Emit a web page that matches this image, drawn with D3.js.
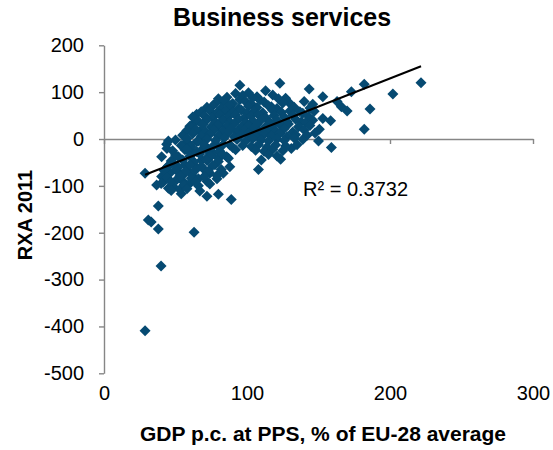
<!DOCTYPE html>
<html><head><meta charset="utf-8">
<script src="https://cdn.jsdelivr.net/npm/d3@7"></script>
<style>
html,body{margin:0;padding:0;background:#fff;}
svg{display:block;font-family:"Liberation Sans",Arial,sans-serif;}
</style></head>
<body><svg id="c" width="553" height="450"></svg>
<script>
// ---- data ----
const chartTitle = "Business services";
const xTitle = "GDP p.c. at PPS, % of EU-28 average";
const yTitle = "RXA 2011";
const xTicks = [0, 100, 200, 300];
const yTicks = [200, 100, 0, -100, -200, -300, -400, -500];
const rSquaredLabel = "R² = 0.3732";
const trendSlope = 1.199;
const trendIntercept = -110.6;

const gdp = [
  // outliers
  28.7, 28.7, 39.9, 38, 31, 33, 38, 63, 72, 80, 89, 54,
  // upper / right points
  95, 123, 143.5, 182, 221.7, 202, 186, 182, 173, 163,
  166, 170, 153, 146, 153, 158.5, 150.6, 147.6, 150, 159,
  123.5, 110, 108, 113, 118, 138, 131, 137, 130, 127,
  117, 109, 107, 64.8, 62.4, 67, 83.4, 88,
  // lower-left cluster
  36.8, 40.3, 43.8, 45, 44, 45, 48.5, 50.8, 55.5, 60,
  62.4, 74, 83.4, 77.6, 87, 40.3, 41.5, 46, 52, 56.6,
  64.8, 68.3, 52, 56.6, 62.4, 68.3, 71.8, 76.4, 78.8, 88,
  85.8, 57.8, 60, 64.8, 71.8, 80, 53, 58, 66, 70,
  44, 48, 55, 59, 66, 72, 79,
  // core
  92, 101, 97,
  80, 86, 95, 104, 122,
  78, 84, 90, 99, 103, 112, 125, 140,
  72, 76, 82, 88, 94, 101, 107, 115, 121, 133, 144,
  68, 74, 79, 85, 90, 96, 100, 105, 111, 118, 124, 130, 139, 147,
  62, 70, 76, 81, 87, 92, 98, 103, 108, 113, 119, 126, 132, 143,
  66, 72, 78, 83, 88, 94, 99, 104, 110, 116, 121, 128, 134, 141, 146,
  60, 69, 75, 80, 86, 91, 96, 101, 107, 113, 118, 124, 129, 136, 144,
  58, 64, 71, 77, 83, 89, 93, 98, 104, 109, 115, 120, 126, 132, 140,
  55, 62, 68, 74, 80, 86, 91, 96, 101, 106, 112, 117, 123, 128, 134, 142,
  50, 58, 66, 72, 78, 84, 93, 99, 104, 110, 115, 121, 126, 133, 139,
  54, 61, 70, 76, 83, 90, 97, 103, 108, 114, 120, 127, 135,
  48, 58, 65, 73, 81, 92, 106, 112, 118, 125,
  50, 60, 67, 75, 83, 115, 121,
  47, 55, 63, 72, 80,
  45, 52, 60, 68, 76, 88,
  42, 50, 57, 64, 73, 82,
  44, 53, 61, 70, 79,
  40, 47, 56, 64, 74,
  47, 58, 67
];
const rxa = [
  // outliers
  -73, -409, -271, -143, -173, -177, -192, -199, -122, -118, -129, -117,
  // upper / right points
  115, 119, 107, 117, 120, 96, 64, 21, 101, 80,
  69, 60, 90, 74, 44, 39, 21, 13, -4, -18,
  -43, -45, -65, 103, 94, 37, -20, 58, 76, 87,
  69, 83, 90, 53, 33, 16, 80, 69,
  // lower-left cluster
  -98, -38, -11, -4, -20, -105, -102, -87, -91, -95,
  -80, -73, -73, -55, -41, -80, -91, -73, -70, -55,
  -62, -45, -38, -23, -30, -23, -41, -30, -13, -13,
  -38, -6, -13, -6, -23, -41, -108, -100, -85, -65,
  -60, -50, -78, -68, -100, -90, -85,
  // core
  97, 99, 93,
  86, 89, 84, 88, 86,
  77, 81, 76, 80, 75, 79, 77, 80,
  68, 71, 66, 72, 65, 70, 67, 71, 65, 68, 66,
  58, 61, 56, 60, 57, 62, 55, 59, 56, 61, 57, 60, 55, 59,
  47, 50, 46, 52, 48, 51, 45, 49, 52, 46, 50, 47, 51, 48,
  38, 41, 36, 40, 37, 42, 35, 39, 41, 36, 40, 37, 42, 35, 40,
  27, 31, 26, 30, 28, 32, 25, 29, 31, 26, 30, 28, 32, 26, 29,
  18, 21, 16, 20, 17, 22, 15, 19, 21, 16, 20, 17, 22, 15, 19,
  8, 11, 6, 10, 7, 12, 5, 9, 11, 6, 10, 7, 12, 5, 9, 8,
  -2, 1, -4, 0, -3, 2, -1, -5, 1, -2, -4, 0, -3, 2, -1,
  -14, -17, -12, -16, -13, -18, -14, -16, -12, -17, -13, -15, -12,
  -25, -22, -27, -24, -26, -23, -24, -26, -22, -25,
  -34, -37, -32, -36, -33, -33, -36,
  -47, -45, -49, -46, -48,
  -57, -60, -55, -58, -56, -59,
  -67, -65, -69, -66, -68, -65,
  -82, -79, -84, -80, -78,
  -95, -92, -98, -90, -96,
  -110, -106, -111
];

// ---- layout ----
const plot = {left: 104, right: 533, top: 45.3, bottom: 373.3};
const markerColor = "#064a72";
const axisColor = "#868686";
const fontFam = '"Liberation Sans", Arial, sans-serif';

const svg = d3.select("#c");
const x = d3.scaleLinear().domain([0, 300]).range([plot.left, plot.right]);
const y = d3.scaleLinear().domain([-500, 200]).range([plot.bottom, plot.top]);
const fmt = d => String(d);

// y axis
const yAxis = svg.append("g")
  .attr("transform", `translate(${plot.left},0)`)
  .call(d3.axisLeft(y).tickValues(yTicks).tickSize(5).tickSizeOuter(0).tickPadding(15).tickFormat(fmt));
// x axis line at y = 0 with ticks
const xAxis = svg.append("g")
  .attr("transform", `translate(0,${y(0)})`)
  .call(d3.axisBottom(x).tickValues(xTicks).tickSize(5).tickSizeOuter(0).tickFormat(""));
// x labels at bottom
const xLab = svg.append("g")
  .attr("transform", `translate(0,${plot.bottom})`)
  .call(d3.axisBottom(x).tickValues(xTicks).tickSize(0).tickPadding(12.5).tickFormat(fmt));
xLab.select(".domain").remove();

[yAxis, xAxis].forEach(g => {
  g.selectAll("path,line").attr("stroke", axisColor).attr("stroke-width", 1.4);
});
[yAxis, xLab].forEach(g => {
  g.selectAll("text").attr("fill", "#000").style("font-size", "20px").style("font-family", fontFam);
});

// points
const pts = gdp.map((g, i) => ({g, r: rxa[i]}));
const s = 5.5;
svg.append("g").selectAll("path").data(pts).join("path")
  .attr("d", `M0,${-s}L${s},0L0,${s}L${-s},0Z`)
  .attr("transform", d => `translate(${x(d.g)},${y(d.r)})`)
  .attr("fill", markerColor);

// trend line
const [xmin, xmax] = d3.extent(gdp);
svg.append("line")
  .attr("x1", x(xmin)).attr("y1", y(trendSlope * xmin + trendIntercept))
  .attr("x2", x(xmax)).attr("y2", y(trendSlope * xmax + trendIntercept))
  .attr("stroke", "#000").attr("stroke-width", 2);

// R squared label
svg.append("text").attr("x", x(139.2)).attr("y", y(-121.5))
  .style("font-size", "20px").text(rSquaredLabel);

// titles
svg.append("text").attr("x", 282).attr("y", 26).attr("text-anchor", "middle")
  .style("font-size", "25px").style("font-weight", "bold").text(chartTitle);
svg.append("text").attr("x", 323).attr("y", 441).attr("text-anchor", "middle")
  .style("font-size", "21px").style("font-weight", "bold").text(xTitle);
svg.append("text").attr("transform", "translate(32,215) rotate(-90)").attr("text-anchor", "middle")
  .style("font-size", "20px").style("font-weight", "bold").text(yTitle);
</script></body></html>
